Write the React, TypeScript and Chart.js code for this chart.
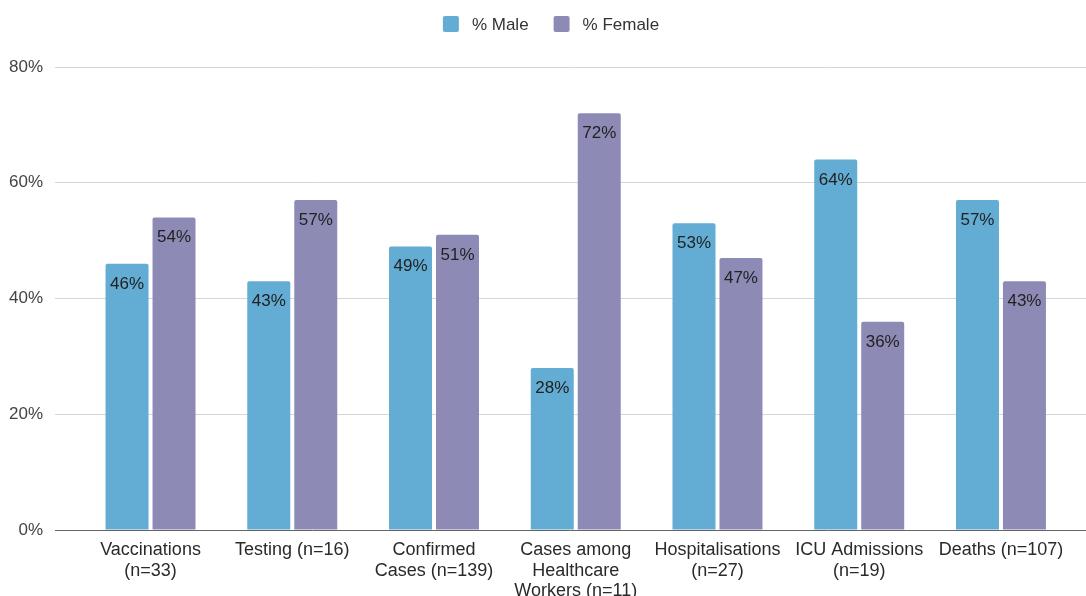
import { useEffect, useRef } from "react";
import { Chart, registerables } from "chart.js";

Chart.register(...registerables);

// Category labels (pre-wrapped into lines)
const CATEGORIES: string[][] = [
  ["Vaccinations", "(n=33)"],
  ["Testing (n=16)"],
  ["Confirmed", "Cases (n=139)"],
  ["Cases among", "Healthcare", "Workers (n=11)"],
  ["Hospitalisations", "(n=27)"],
  ["ICU Admissions", "(n=19)"],
  ["Deaths (n=107)"],
];

// Share of each group by sex, in percent
const MALE_PCT = [46, 43, 49, 28, 53, 64, 57];
const FEMALE_PCT = [54, 57, 51, 72, 47, 36, 43];

const SERIES_NAMES = ["% Male", "% Female"];
const SERIES_COLORS = ["#63acd3", "#8d8bb6"];

const Y_TICKS = [0, 20, 40, 60, 80];

const FONT_FAMILY = '"Liberation Sans", Arial, Helvetica, sans-serif';
const FONT_SIZE = 17;
const AXIS_FONT_SIZE = 18;

// Percentage printed inside the top of every bar
const valueLabelPlugin = {
  id: "valueLabels",
  afterDatasetsDraw(chart: any) {
    const { ctx } = chart;
    ctx.save();
    ctx.font = `${FONT_SIZE}px ${FONT_FAMILY}`;
    ctx.fillStyle = "#222222";
    ctx.textAlign = "center";
    ctx.textBaseline = "alphabetic";
    chart.data.datasets.forEach((ds: any, di: number) => {
      const meta = chart.getDatasetMeta(di);
      meta.data.forEach((bar: any, i: number) => {
        const v = ds.data[i].y;
        ctx.fillText(`${v}%`, bar.x, bar.y + 25);
      });
    });
    ctx.restore();
  },
};

// Centred legend row above the plot
const legendPlugin = {
  id: "topLegend",
  afterDraw(chart: any) {
    const { ctx } = chart;
    const box = 16;
    const gapText = 13;
    const gapItem = 25;
    ctx.save();
    ctx.font = `${FONT_SIZE}px ${FONT_FAMILY}`;
    const items = chart.data.datasets.map((ds: any) => ({
      label: ds.label as string,
      color: ds.backgroundColor as string,
      w: ctx.measureText(ds.label).width,
    }));
    const total =
      items.reduce((s: number, it: any) => s + box + gapText + it.w, 0) +
      gapItem * (items.length - 1);
    let x = chart.width / 2 + 8 - total / 2;
    const cy = 24;
    ctx.textBaseline = "middle";
    ctx.textAlign = "left";
    items.forEach((it: any) => {
      ctx.fillStyle = it.color;
      ctx.beginPath();
      ctx.roundRect(x, cy - box / 2, box, box, 2);
      ctx.fill();
      ctx.fillStyle = "#333333";
      ctx.fillText(it.label, x + box + gapText, cy + 1);
      x += box + gapText + it.w + gapItem;
    });
    ctx.restore();
  },
};

export default function App() {
  const canvasRef = useRef<HTMLCanvasElement | null>(null);

  useEffect(() => {
    const canvas = canvasRef.current;
    if (!canvas) return;

    const toPoints = (vals: number[]) => vals.map((y, x) => ({ x, y }));

    const chart = new Chart(canvas, {
      type: "bar",
      data: {
        datasets: [
          {
            label: SERIES_NAMES[0],
            data: toPoints(MALE_PCT),
            backgroundColor: SERIES_COLORS[0],
            borderRadius: 2,
            borderSkipped: "bottom",
          },
          {
            label: SERIES_NAMES[1],
            data: toPoints(FEMALE_PCT),
            backgroundColor: SERIES_COLORS[1],
            borderRadius: 2,
            borderSkipped: "bottom",
          },
        ] as any,
      },
      options: {
        responsive: false,
        animation: false,
        layout: { padding: { top: 67, left: 0, right: 0, bottom: 0 } },
        datasets: {
          bar: { categoryPercentage: 0.663, barPercentage: 0.915 },
        },
        plugins: {
          legend: { display: false },
          tooltip: { enabled: false },
        },
        scales: {
          x: {
            type: "linear",
            min: -0.674,
            max: 6.6,
            offset: false,
            grid: { display: false, drawTicks: false },
            border: { display: false },
            afterBuildTicks: (scale: any) => {
              scale.ticks = CATEGORIES.map((_, i) => ({ value: i }));
            },
            afterFit: (scale: any) => {
              scale.height = 66;
            },
            ticks: {
              autoSkip: false,
              maxRotation: 0,
              minRotation: 0,
              padding: 10,
              color: "#2a2a2a",
              font: { family: FONT_FAMILY, size: AXIS_FONT_SIZE, lineHeight: 1.14 },
              callback: (value: any) => CATEGORIES[Math.round(Number(value))] ?? "",
            },
          },
          y: {
            min: Y_TICKS[0],
            max: Y_TICKS[Y_TICKS.length - 1],
            afterBuildTicks: (scale: any) => {
              scale.ticks = Y_TICKS.map((v) => ({ value: v }));
            },
            afterFit: (scale: any) => {
              scale.width = 55;
            },
            grid: {
              drawTicks: false,
              lineWidth: 1,
              color: (ctx: any) => (ctx.tick && ctx.tick.value === 0 ? "#666666" : "#d6d6d6"),
            },
            border: { display: false },
            ticks: {
              padding: 12,
              color: "#444444",
              font: { family: FONT_FAMILY, size: FONT_SIZE },
              callback: (value: any) => `${value}%`,
            },
          },
        },
      },
      plugins: [valueLabelPlugin, legendPlugin],
    });

    return () => chart.destroy();
  }, []);

  return (
    <div style={{ position: "absolute", left: 0, top: 0, width: 1086, height: 596, background: "#ffffff" }}>
      <canvas ref={canvasRef} width={1086} height={596} />
    </div>
  );
}
